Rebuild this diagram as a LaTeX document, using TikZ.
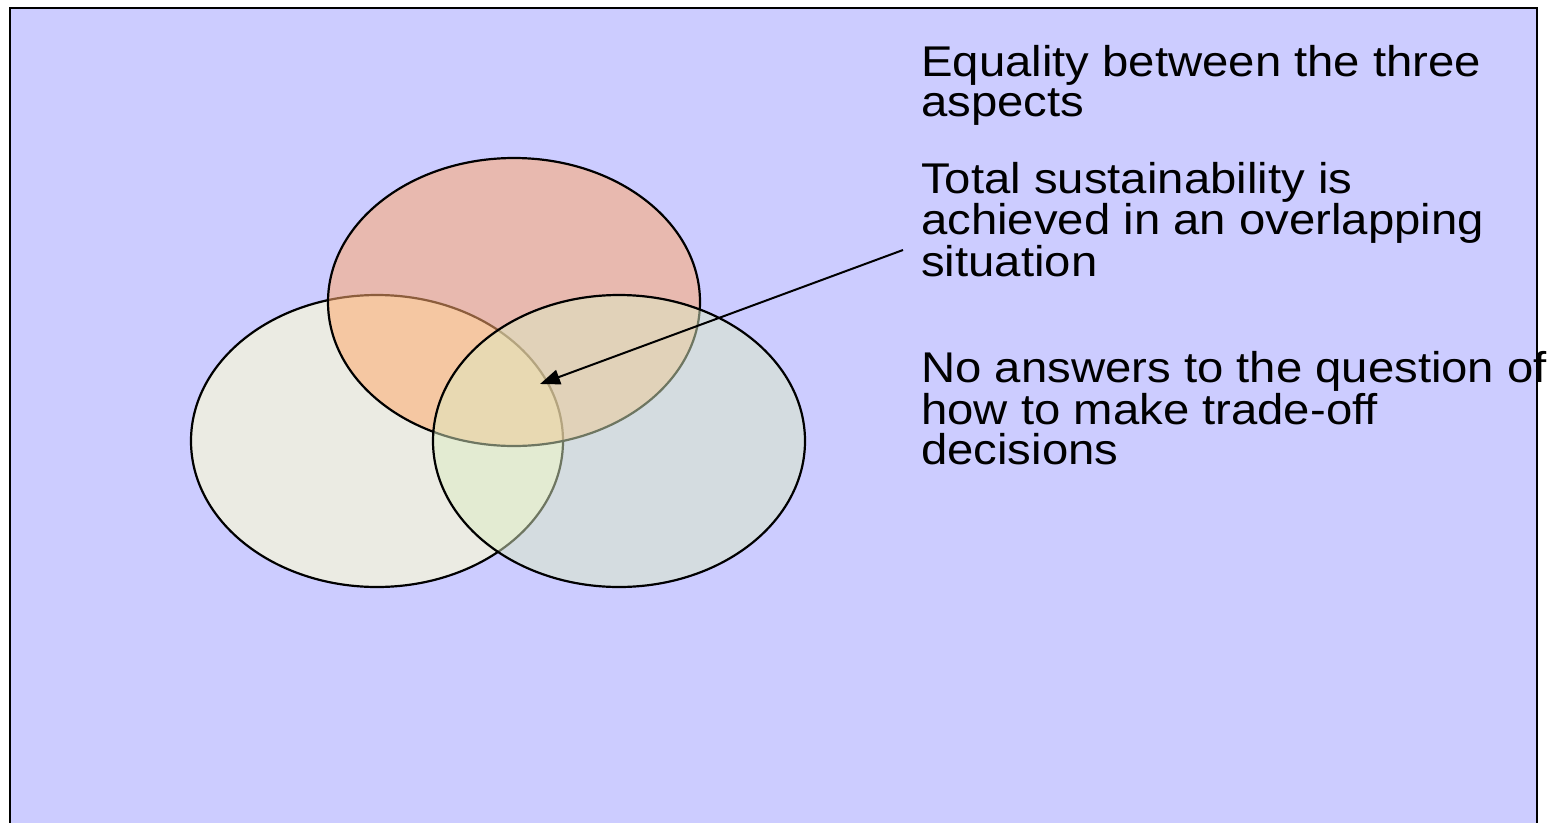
\documentclass[tikz,border=0pt]{standalone}
\usepackage{graphicx}
\usepackage{fontspec}
\setmainfont{Liberation Sans}
\usetikzlibrary{arrows.meta}
\definecolor{lav}{RGB}{204,204,255}
\definecolor{cleft}{RGB}{255,255,210}
\definecolor{ctop}{RGB}{255,170,110}
\definecolor{cright}{RGB}{220,236,195}
\newcommand{\ws}[1]{\scalebox{1.1}[1]{#1}}
\tikzset{
  venn/.style={draw=black, line width=2.2pt},
  txt/.style={anchor=base west, inner sep=0pt, align=left, font=\fontsize{43}{40}\selectfont},
}
\begin{document}
\begin{tikzpicture}[x=1pt,y=-1pt]
\useasboundingbox (0,0) rectangle (1566,822);
\fill[white] (0,0) rectangle (1566,822);
\draw[fill=lav, line width=2.5pt] (10,8) -- (1537,8) -- (1537,840) -- (10,840) -- cycle;
\path[clip] (0,0) rectangle (1566,822);
% ellipses
\draw[venn, fill=cleft, fill opacity=0.62] (377,441) ellipse [x radius=186, y radius=146];
\draw[venn, fill=ctop, fill opacity=0.55] (514,302) ellipse [x radius=186, y radius=144];
\draw[venn, fill=cright, fill opacity=0.5] (619,441) ellipse [x radius=186, y radius=146];
\coordinate (center) at (540,384);
\coordinate (start) at (903,250);
\draw[line width=2pt, -{Triangle[length=20pt,width=15pt]}] (start) -- (center);
\node[txt] (t1) at (921,116) {\ws{Equality between the three}\\\ws{aspects}};
\node[txt] (t2) at (921,276) {\ws{Total sustainability is}\\\ws{achieved in an overlapping}\\\ws{situation}};
\node[txt] (t3) at (921,464) {\ws{No answers to the question of}\\\ws{how to make trade-off}\\\ws{decisions}};
\end{tikzpicture}
\end{document}
